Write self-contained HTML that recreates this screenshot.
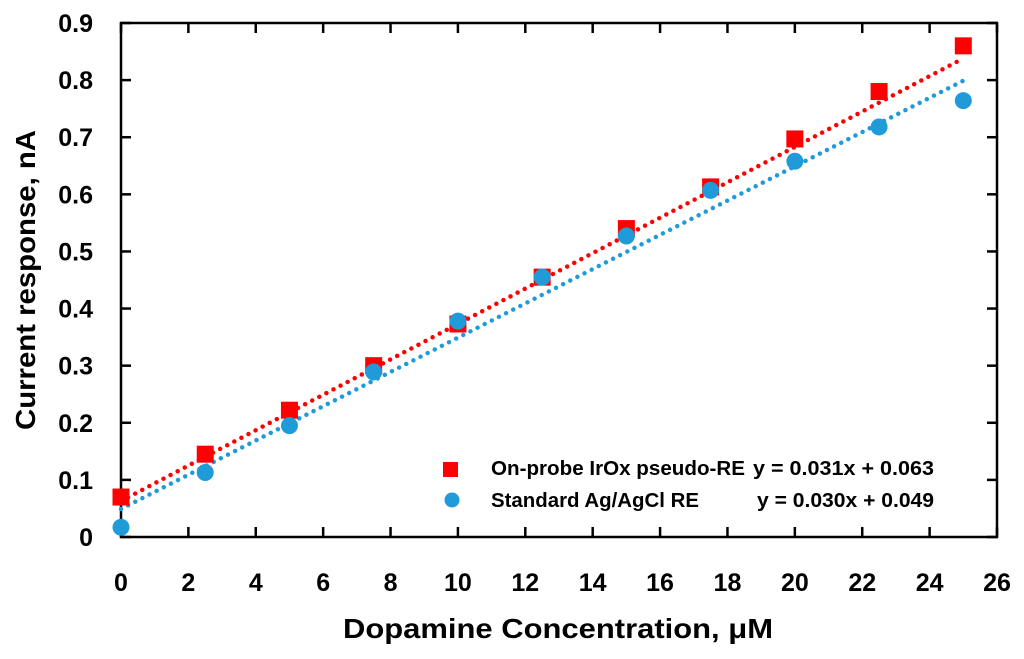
<!DOCTYPE html>
<html><head><meta charset="utf-8"><style>
body{margin:0;background:#fff;width:1024px;height:654px;overflow:hidden}
text{font-family:"Liberation Sans",sans-serif;font-weight:bold;fill:#000}
</style></head><body>
<svg id="chart" width="1024" height="654"></svg>
<script>
const xVals=[0,2.5,5,7.5,10,12.5,15,17.5,20,22.5,25];
const redVals=[0.07,0.145,0.222,0.30,0.373,0.455,0.54,0.613,0.697,0.78,0.86];
const blueVals=[0.017,0.113,0.195,0.289,0.378,0.455,0.527,0.607,0.658,0.718,0.764];
const xTicks=[0,2,4,6,8,10,12,14,16,18,20,22,24,26];
const yTicks=[0,0.1,0.2,0.3,0.4,0.5,0.6,0.7,0.8,0.9];
const redFit=[0.031,0.063];
const blueFit=[0.030,0.049];
const L=121,R=997,T=23,B=537;
const sx=v=>L+(v/26)*(R-L);
const sy=v=>B-(v/0.9)*(B-T);
const svg=document.getElementById('chart');
const NS='http://www.w3.org/2000/svg';
function mk(tag,attrs,name,parent){const e=document.createElementNS(NS,tag);for(const k in attrs)e.setAttribute(k,attrs[k]);


(parent||svg).appendChild(e);return e;}
mk('rect',{x:L,y:T,width:R-L,height:B-T,fill:'none',stroke:'#000','stroke-width':2.5},'plot-frame');
xTicks.forEach(t=>{const x=sx(t);
 mk('line',{x1:x,x2:x,y1:B,y2:B-10,stroke:'#000','stroke-width':2.5},'x-tick');
 mk('line',{x1:x,x2:x,y1:T,y2:T+10,stroke:'#000','stroke-width':2.5},'x-tick-top');
 const tx=mk('text',{x:x,y:B+54,'font-size':25,'text-anchor':'middle'},'x-tick-label');tx.textContent=t;});
yTicks.forEach(t=>{const y=sy(t);
 mk('line',{x1:L,x2:L+10,y1:y,y2:y,stroke:'#000','stroke-width':2.5},'y-tick');
 mk('line',{x1:R,x2:R-10,y1:y,y2:y,stroke:'#000','stroke-width':2.5},'y-tick-right');
 const tx=mk('text',{x:93,y:y+9,'font-size':25,'text-anchor':'end'},'y-tick-label');tx.textContent=t===0?'0':t.toFixed(1);});
function trend(fit,color,name){mk('line',{x1:sx(0),y1:sy(fit[1]),x2:sx(25),y2:sy(fit[0]*25+fit[1]),stroke:color,'stroke-width':4.5,'stroke-linecap':'round','stroke-dasharray':'0 8'},name);}
trend(redFit,'#ff0000','trendline-irox');
trend(blueFit,'#1f9bd9','trendline-agcl');
xVals.forEach((x,i)=>{mk('rect',{x:sx(x)-8.5,y:sy(redVals[i])-8.5,width:17,height:17,fill:'#ff0000'},'point-irox');});
xVals.forEach((x,i)=>{mk('circle',{cx:sx(x),cy:sy(blueVals[i]),r:8.5,fill:'#1f9bd9'},'point-agcl');});
mk('rect',{x:443,y:462,width:15,height:15,fill:'#ff0000'},'legend-marker-irox');
mk('circle',{cx:452,cy:500,r:7.5,fill:'#1f9bd9'},'legend-marker-agcl');
let t;
t=mk('text',{x:491,y:475,'font-size':20,textLength:254,lengthAdjust:'spacingAndGlyphs'},'legend-label-irox');t.textContent='On-probe IrOx pseudo-RE';
t=mk('text',{x:491,y:507,'font-size':20,textLength:208,lengthAdjust:'spacingAndGlyphs'},'legend-label-agcl');t.textContent='Standard Ag/AgCl RE';
t=mk('text',{x:753,y:475,'font-size':20,textLength:181,lengthAdjust:'spacingAndGlyphs'},'equation-irox');t.textContent='y = 0.031x + 0.063';
t=mk('text',{x:757,y:507,'font-size':20,textLength:177,lengthAdjust:'spacingAndGlyphs'},'equation-agcl');t.textContent='y = 0.030x + 0.049';
t=mk('text',{x:558,y:638,'font-size':28,'text-anchor':'middle',textLength:430,lengthAdjust:'spacingAndGlyphs'},'x-axis-title');t.textContent='Dopamine Concentration, μM';
t=mk('text',{x:0,y:0,'font-size':28,'text-anchor':'middle',transform:'translate(35,280) rotate(-90)',textLength:300,lengthAdjust:'spacingAndGlyphs'},'y-axis-title');t.textContent='Current response, nA';
</script>
</body></html>
